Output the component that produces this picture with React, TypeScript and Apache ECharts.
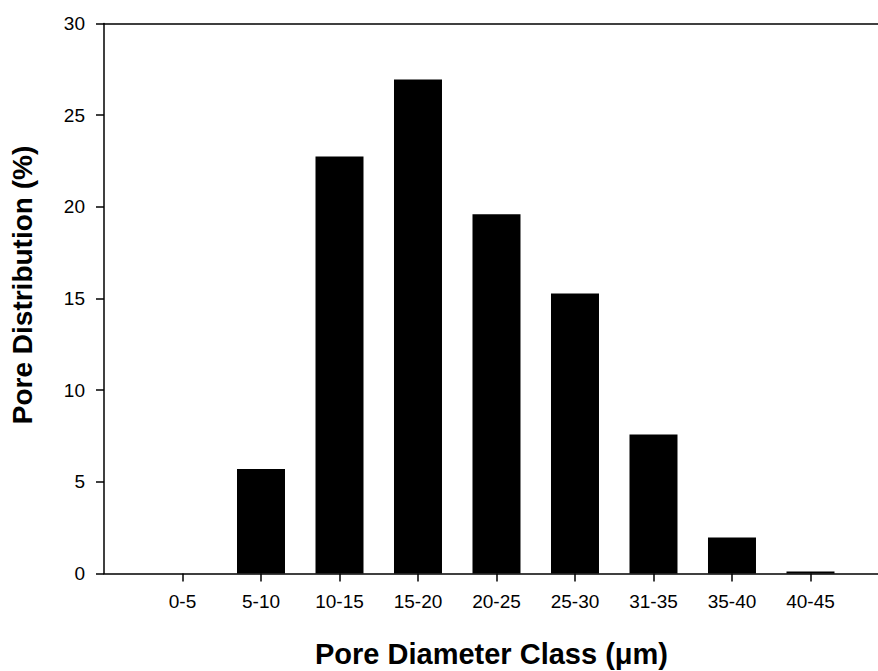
import React, { useEffect, useRef } from "react";
import * as echarts from "echarts";

const categories = ["0-5", "5-10", "10-15", "15-20", "20-25", "25-30", "31-35", "35-40", "40-45"];
const values = [0, 5.7, 22.75, 26.95, 19.6, 15.27, 7.58, 1.96, 0.11];
const yTicks = [0, 5, 10, 15, 20, 25, 30];
const xTitle = "Pore Diameter Class (μm)";
const yTitle = "Pore Distribution (%)";

const FONT = "'Liberation Sans', Arial, sans-serif";

export default function App() {
  const ref = useRef<HTMLDivElement>(null);
  useEffect(() => {
    if (!ref.current) return;
    const chart = echarts.init(ref.current, null, { renderer: "svg" });
    const positions = categories.map((_, i) => i + 1);
    const axisLine = { show: true, lineStyle: { color: "#000", width: 1.5 } };
    chart.setOption({
      animation: false,
      backgroundColor: "#fff",
      grid: { left: 104, right: 0, top: 23.5, bottom: 97.5, containLabel: false },
      xAxis: [
        {
          type: "value",
          min: 0,
          max: 9.86,
          interval: 1,
          position: "bottom",
          axisLine,
          axisTick: { show: true, length: 8, lineStyle: { color: "#000", width: 1.5 }, customValues: positions },
          axisLabel: {
            show: true,
            customValues: positions,
            formatter: (v: number) => categories[Math.round(v) - 1] ?? "",
            color: "#000",
            fontSize: 19,
            fontFamily: FONT,
            margin: 18,
          },
          splitLine: { show: false },
        },
        {
          type: "value",
          min: 0,
          max: 9.86,
          position: "top",
          axisLine,
          axisTick: { show: false },
          axisLabel: { show: false },
          splitLine: { show: false },
        },
      ],
      yAxis: {
        type: "value",
        min: yTicks[0],
        max: yTicks[yTicks.length - 1],
        interval: 5,
        axisLine,
        axisTick: { show: true, length: 8, lineStyle: { color: "#000", width: 1.5 } },
        axisLabel: { color: "#000", fontSize: 19, fontFamily: FONT, margin: 19 },
        splitLine: { show: false },
      },
      graphic: [
        {
          type: "text",
          left: 315,
          top: 639,
          style: { text: xTitle, font: `bold 29px ${FONT}`, fill: "#000" },
        },
        {
          type: "text",
          x: 22,
          y: 285,
          rotation: Math.PI / 2,
          style: {
            text: yTitle,
            font: `bold 28px ${FONT}`,
            fill: "#000",
            align: "center",
            verticalAlign: "middle",
          },
        },
      ],
      series: [
        {
          type: "bar",
          xAxisIndex: 0,
          data: values.map((v, i) => [positions[i], v]),
          barWidth: 48,
          itemStyle: { color: "#000" },
        },
      ],
    });
    return () => chart.dispose();
  }, []);
  return <div ref={ref} style={{ position: "fixed", left: 0, top: 0, width: 878, height: 671 }} />;
}
